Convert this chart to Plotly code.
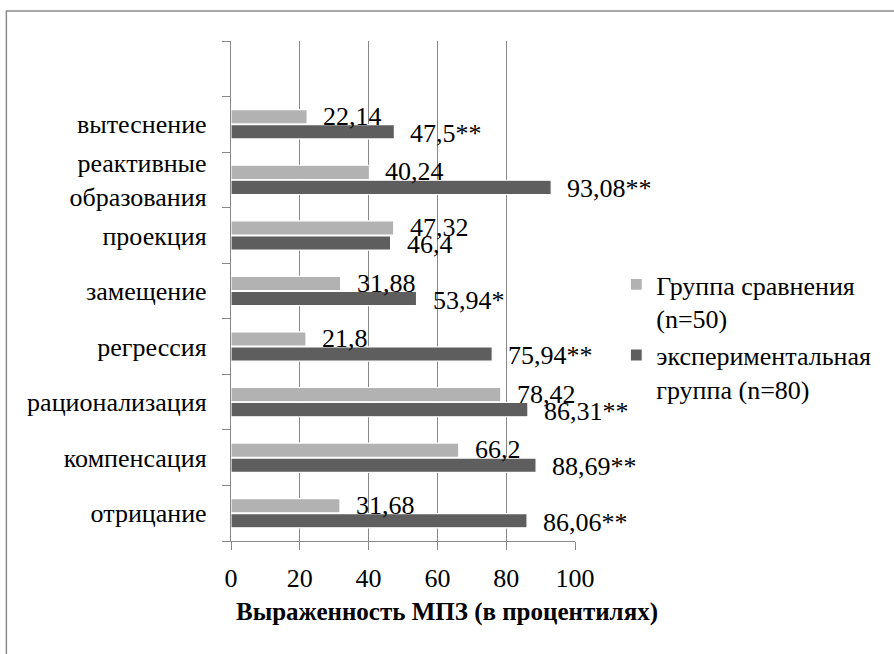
import plotly.graph_objects as go

categories = ["отрицание", "компенсация", "рационализация", "регрессия",
              "замещение", "проекция", "реактивные<br>образования", "вытеснение"]
comparison = [31.68, 66.2, 78.42, 21.8, 31.88, 47.32, 40.24, 22.14]
experimental = [86.06, 88.69, 86.31, 75.94, 53.94, 46.4, 93.08, 47.5]
exp_sig = ["**", "**", "**", "**", "*", "", "**", "**"]
x_ticks = [0, 20, 40, 60, 80, 100]

name_cmp = "Группа сравнения<br>(n=50)"
name_exp = "экспериментальная<br>группа (n=80)"
col_cmp = "#b2b2b2"
col_exp = "#5e5e5e"
grid = "#888888"
FONT = "Liberation Serif"

ypos = list(range(len(categories)))

def fmt(v):
    return ("%g" % v).replace(".", ",")

fig = go.Figure()
fig.add_trace(go.Bar(y=ypos, x=experimental, orientation="h", name=name_exp,
                     marker=dict(color=col_exp, line=dict(color="white", width=1.2))))
fig.add_trace(go.Bar(y=ypos, x=comparison, orientation="h", name=name_cmp,
                     marker=dict(color=col_cmp, line=dict(color="white", width=1.2))))

annotations = []
for i, (c, e, s) in enumerate(zip(comparison, experimental, exp_sig)):
    annotations.append(dict(x=c, y=i, xref="x", yref="y", text=fmt(c), showarrow=False,
                            xanchor="left", yanchor="middle", xshift=14, yshift=8,
                            font=dict(family=FONT, size=26, color="black")))
    annotations.append(dict(x=e, y=i, xref="x", yref="y", text=fmt(e) + s, showarrow=False,
                            xanchor="left", yanchor="middle", xshift=14, yshift=-9,
                            font=dict(family=FONT, size=26, color="black")))

annotations.append(dict(x=0.628, y=-0.142, xref="paper", yref="paper",
                        text="<b>Выраженность МПЗ (в процентилях)</b>", showarrow=False,
                        xanchor="center", yanchor="middle",
                        font=dict(family=FONT, size=25, color="black")))

bounds = [i - 0.5 for i in range(len(categories) + 2)]

fig.update_layout(
    width=894, height=654,
    margin=dict(l=231, r=319, t=41, b=113),
    paper_bgcolor="white", plot_bgcolor="white",
    barmode="group", bargap=0.46, bargroupgap=0.05,
    font=dict(family=FONT, size=26, color="black"),
    showlegend=True,
    legend=dict(x=1.12, y=0.56, xanchor="left", yanchor="top", valign="top",
                traceorder="reversed", font=dict(family=FONT, size=26, color="black"),
                itemwidth=30, bgcolor="rgba(0,0,0,0)"),
    xaxis=dict(range=[0, 100], tickvals=x_ticks, showgrid=True, gridcolor=grid, gridwidth=1.3,
               zeroline=False, showline=True, linecolor=grid, linewidth=1.3,
               ticks="outside", ticklen=8, tickcolor=grid,
               tickfont=dict(family=FONT, size=26), ticklabelstandoff=6),
    yaxis=dict(range=[-0.5, len(categories) + 0.5], tickvals=ypos, ticktext=categories,
               showgrid=False, zeroline=False, showline=True, linecolor=grid, linewidth=1.3,
               ticks="", tickfont=dict(family=FONT, size=26), ticklabelstandoff=18,
               minor=dict(tickvals=bounds, ticks="outside", ticklen=8, tickcolor=grid,
                          showgrid=False)),
    annotations=annotations,
    shapes=[dict(type="rect", xref="paper", yref="paper", x0=-0.653, x1=1.96,
                 y0=-0.3, y1=1.06, line=dict(color="#8a8a8a", width=1.5),
                 fillcolor="rgba(0,0,0,0)", layer="below")],
)

fig.write_html("out.html")
